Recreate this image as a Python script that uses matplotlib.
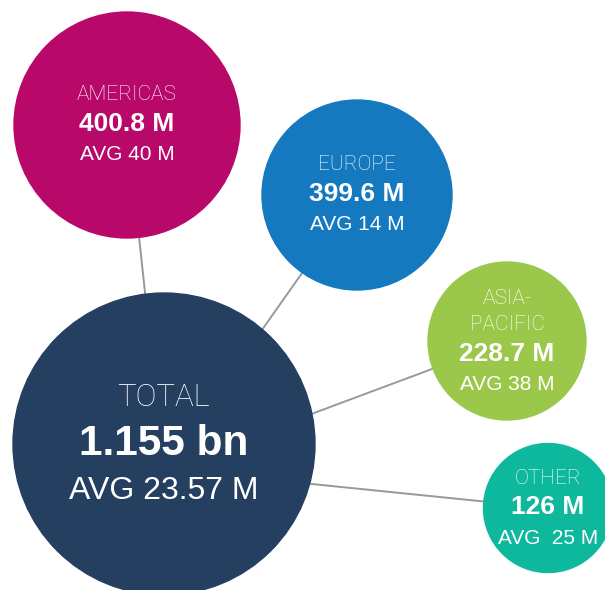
import matplotlib.pyplot as plt
from matplotlib.patches import Circle

# data
regions = ["AMERICAS", "EUROPE", "ASIA-\nPACIFIC", "OTHER"]
totals = ["400.8 M", "399.6 M", "228.7 M", "126 M"]
averages = ["AVG 40 M", "AVG 14 M", "AVG 38 M", "AVG  25 M"]
grand_total = "1.155 bn"
grand_avg = "AVG 23.57 M"

# layout (pixel space, y down)
centers = [(127, 125), (357, 195), (507, 341), (548, 508)]
radii = [113, 95, 79, 64.5]
colors = ["#b8096b", "#1479bf", "#9bc84a", "#0db89d"]
total_center = (164, 444)
total_radius = 151
total_color = "#243f5f"
hub = (164, 469)

fig = plt.figure(figsize=(6.05, 5.9), dpi=100)
ax = fig.add_axes([0, 0, 1, 1])
ax.set_xlim(0, 605)
ax.set_ylim(590, 0)
ax.set_aspect("equal")
ax.axis("off")

light = dict(family=["Roboto", "Liberation Sans"], fontweight="light", color="white")
regular = dict(family=["Liberation Sans"], color="white")
bold = dict(family=["Liberation Sans"], fontweight="bold", color="white")

# connector lines behind the bubbles
for c in centers:
    ax.plot([hub[0], c[0]], [hub[1], c[1]], color="#999999", lw=1.4, zorder=1)

ax.add_patch(Circle(total_center, total_radius, color=total_color, zorder=2))
for c, r, col in zip(centers, radii, colors):
    ax.add_patch(Circle(c, r, color=col, zorder=2))

# small bubble labels
for (cx, cy), name, tot, avg in zip(centers, regions, totals, averages):
    lines = name.split("\n")
    n = len(lines)
    # stack from the middle value line
    y_val = cy - 1 if n == 1 else cy + 13
    for i, ln in enumerate(lines):
        ax.text(cx, y_val - 29 - 27 * (n - 1 - i), ln, ha="center", va="center",
                fontsize=15, zorder=3, **light)
    ax.text(cx, y_val, tot, ha="center", va="center", fontsize=19, zorder=3, **bold)
    ax.text(cx, y_val + 31, avg, ha="center", va="center", fontsize=15, zorder=3, **regular)

tx, ty = total_center
ax.text(tx, ty - 47, "TOTAL", ha="center", va="center", fontsize=22.5, zorder=3, **light)
ax.text(tx, ty, grand_total, ha="center", va="center", fontsize=30.5, zorder=3, **bold)
ax.text(tx, ty + 47, grand_avg, ha="center", va="center", fontsize=23, zorder=3, **regular)

fig.savefig("out.png", dpi=100, facecolor="white")
